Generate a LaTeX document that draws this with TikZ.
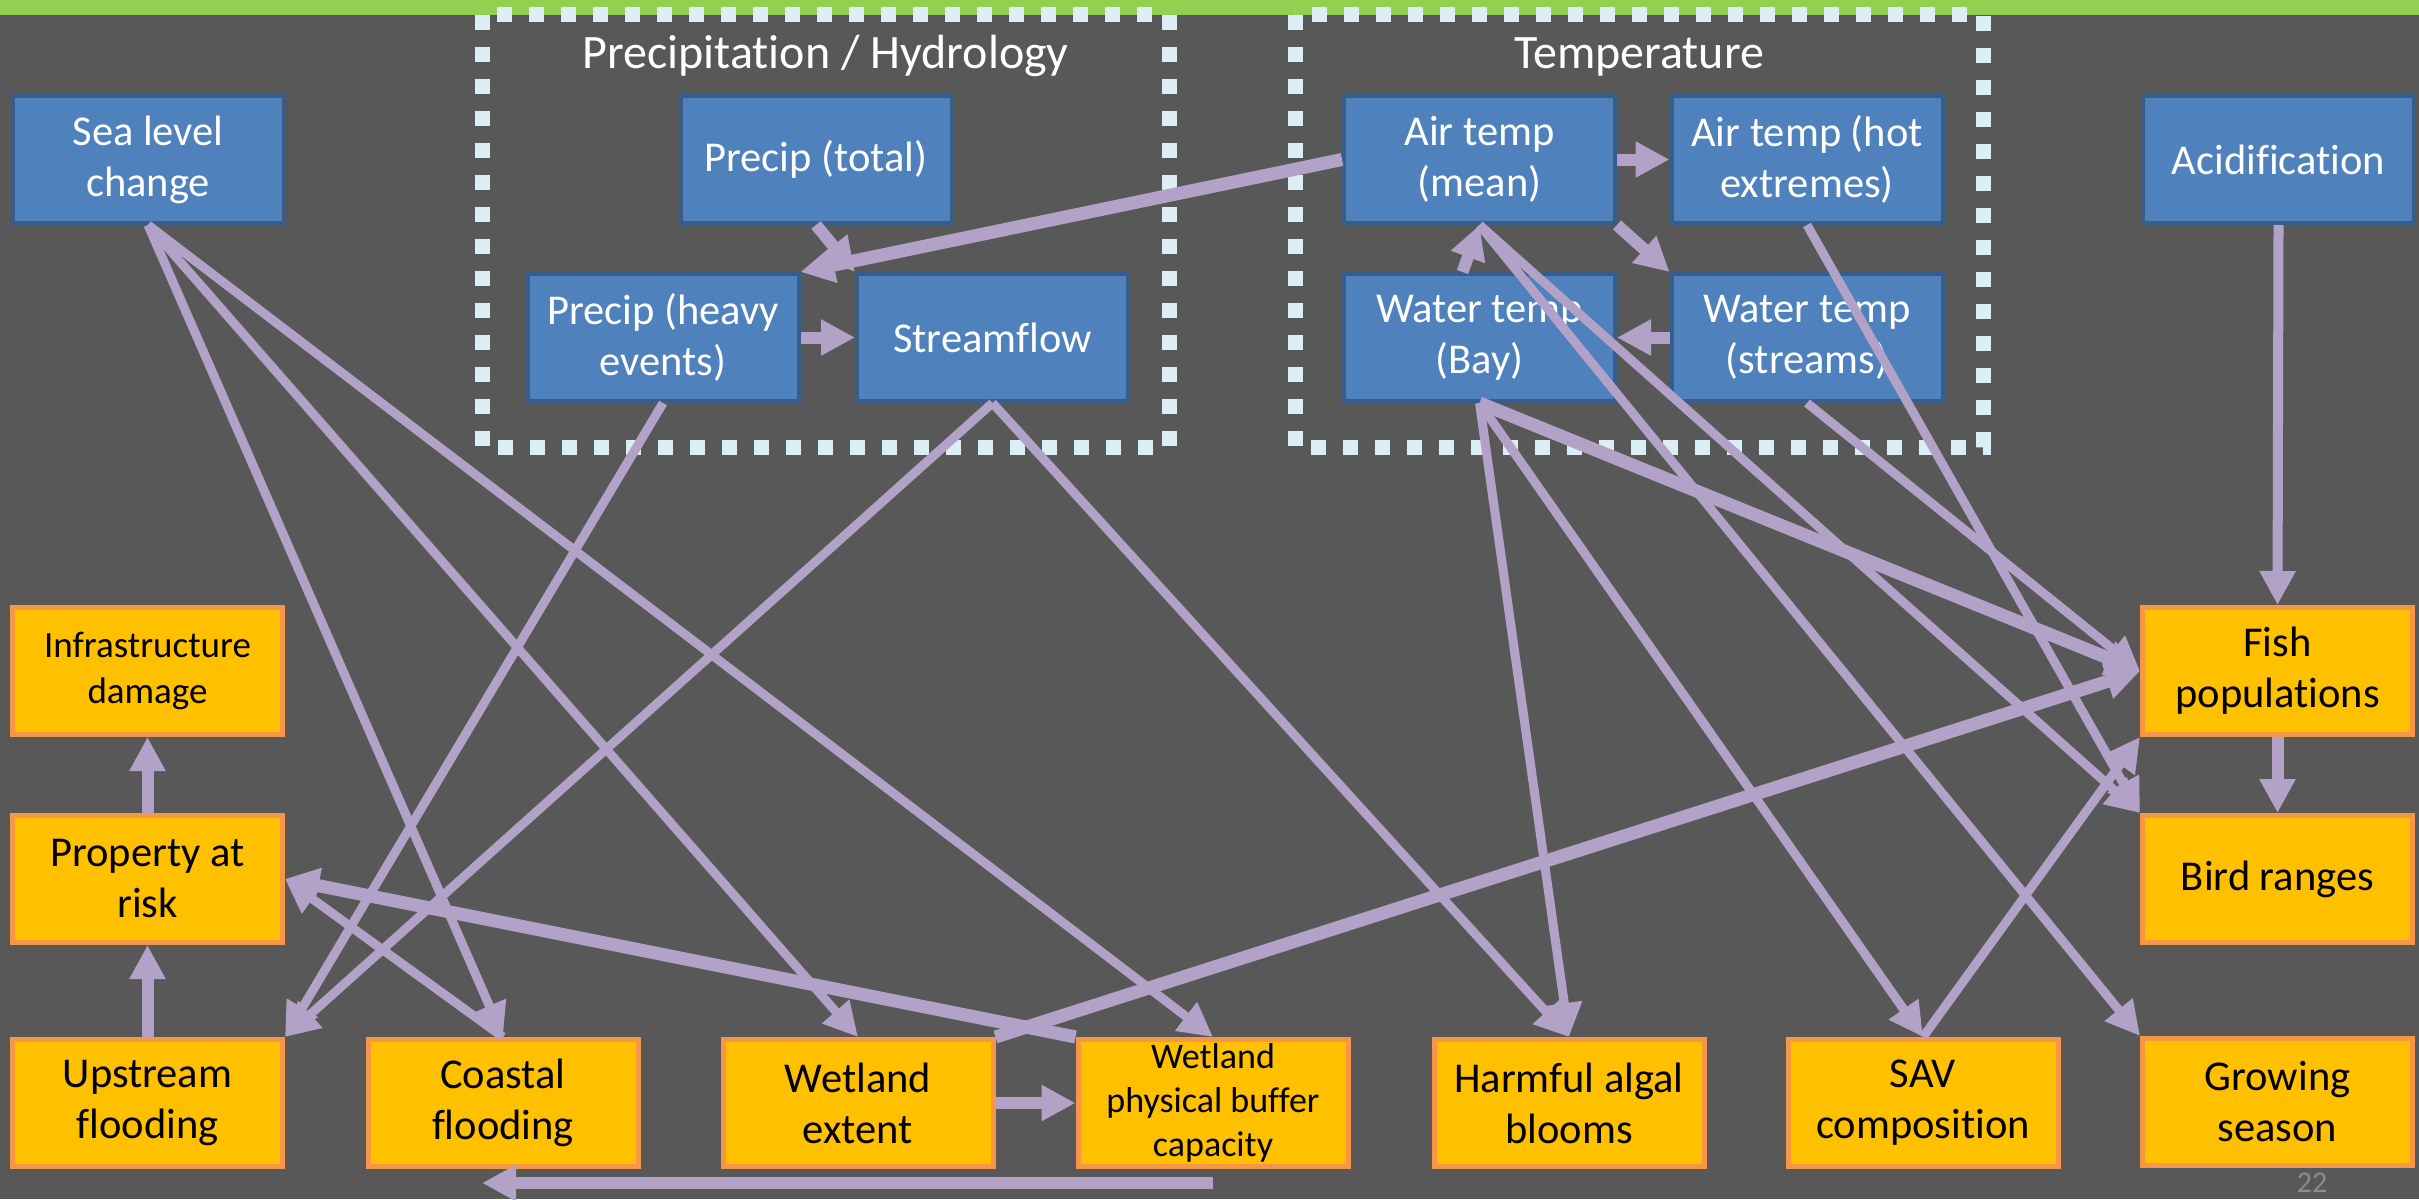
\documentclass[tikz,border=0pt]{standalone}
\usepackage{fontspec}
\setmainfont{Carlito}[Ligatures=NoCommon]
\usetikzlibrary{arrows.meta}

\definecolor{slidebg}{HTML}{585858}
\definecolor{topbar}{HTML}{92D050}
\definecolor{linkpurple}{HTML}{B3A2C7}
\definecolor{groupline}{HTML}{DAEEF3}
\definecolor{driverfill}{HTML}{4F81BD}
\definecolor{driverdraw}{HTML}{385D8A}
\definecolor{impactfill}{HTML}{FFC000}
\definecolor{impactdraw}{HTML}{F79646}
\definecolor{pagegray}{HTML}{8C8C8C}

\begin{document}
\begin{tikzpicture}[x=1pt,y=-1pt]
	\tikzstyle{driver}=[draw=driverdraw,fill=driverfill,line width=4pt,minimum width=271pt,minimum height=127pt,inner sep=0pt,align=center,text=white,font=\fontsize{42.5}{51}\selectfont];
	\tikzstyle{impact}=[draw=impactdraw,fill=impactfill,line width=5pt,minimum width=270pt,minimum height=127pt,inner sep=0pt,align=center,text=black,font=\fontsize{42.5}{51}\selectfont];
	\tikzstyle{groupbox}=[draw=groupline,line width=15pt,dash pattern=on 15pt off 17pt];
	\tikzstyle{grouptitle}=[text=white,font=\fontsize{48}{56}\selectfont,anchor=base];
	\tikzstyle{link}=[draw=linkpurple,line width=9pt,-{Triangle[length=34pt,width=34pt]}];
	\tikzstyle{thicklink}=[link,line width=13pt];
	\tikzstyle{shortlink}=[link,line width=12pt];

	\useasboundingbox (0,0) rectangle (2419,1199);
	\fill[slidebg] (0,0) rectangle (2419,1199);
	\fill[topbar] (0,0) rectangle (2419,15);

	% groups
	\draw[groupbox] (482,15) rectangle (1169,447);
	\draw[groupbox] (1295,15) rectangle (1983,447);
	\node[grouptitle] (precipttl) at (825.5,68) {Precipitation / Hydrology};
	\node[grouptitle] (tempttl) at (1639,68) {Temperature};

	% drivers
	\node[driver] (sea) at (148,159.5) {Sea level\\change};
	\node[driver] (total) at (816,159.5) {Precip (total)};
	\node[driver] (heavy) at (663,337.5) {Precip (heavy\\events)};
	\node[driver] (stream) at (992.5,337.5) {Streamflow};
	\node[driver] (mean) at (1479.5,159.5) {Air temp\\(mean)};
	\node[driver] (hot) at (1807,159.5) {Air temp (hot\\extremes)};
	\node[driver] (bay) at (1479.5,337.5) {Water temp\\(Bay)};
	\node[driver] (streams) at (1807,337.5) {Water temp\\(streams)};
	\node[driver] (acid) at (2278.5,159.5) {Acidification};

	% impacts
	\node[impact,font=\fontsize{37}{46}\selectfont] (infra) at (147.5,671) {Infrastructure\\damage};
	\node[impact] (property) at (147.5,879) {Property at\\risk};
	\node[impact] (upstream) at (147.5,1103) {Upstream\\flooding};
	\node[impact] (coastal) at (503,1103) {Coastal\\flooding};
	\node[impact] (wext) at (858,1103) {Wetland\\extent};
	\node[impact,font=\fontsize{36}{44}\selectfont] (wpb) at (1213,1103) {Wetland\\physical buffer\\capacity};
	\node[impact] (hab) at (1569,1103) {Harmful algal\\blooms};
	\node[impact] (sav) at (1923,1103) {SAV\\composition};
	\node[impact] (grow) at (2277.5,1102) {Growing\\season};
	\node[impact] (fish) at (2277.5,671) {Fish\\populations};
	\node[impact] (bird) at (2277.5,879) {Bird ranges};

	\node[text=pagegray,font=\fontsize{30}{36}\selectfont,anchor=base] (slideno) at (2312,1192) {22};

	\coordinate (wpbfoot) at (1213,1183);
	\coordinate (coastfoot) at (482,1183);

	% short links inside the groups
	\draw[shortlink] (total.south) -- (stream.north west);
	\draw[shortlink] (heavy.east) -- (stream.west);
	\draw[shortlink] (mean.east) -- (hot.west);
	\draw[shortlink] (mean.south east) -- (streams.north west);
	\draw[shortlink] (streams.west) -- (bay.east);
	\draw[shortlink] ([xshift=-17pt]bay.north) -- (mean.south);
	\draw[thicklink] (mean.west) -- (heavy.north east);

	% drivers to impacts
	\draw[link] (sea.south) -- (coastal.north);
	\draw[link] (sea.south) -- (wext.north);
	\draw[link] (sea.south) -- (wpb.north);
	\draw[link] (heavy.south) -- (upstream.north east);
	\draw[link] (stream.south) -- (upstream.north east);
	\draw[link] (stream.south) -- (hab.north);
	\draw[link] (mean.south) -- (grow.north west);
	\draw[link] (mean.south) -- (bird.north west);
	\draw[link] (hot.south) -- (bird.north west);
	\draw[thicklink] (bay.south) -- (fish.west);
	\draw[link] (bay.south) -- (hab.north);
	\draw[link] (bay.south) -- (sav.north);
	\draw[link] (streams.south) -- (fish.west);
	\draw[link,line width=10pt] (acid.south) -- (fish.north);

	% among impacts
	\draw[shortlink] (fish.south) -- (bird.north);
	\draw[link] (sav.north) -- (fish.south west);
	\draw[thicklink] (wext.north east) -- (fish.west);
	\draw[shortlink] (wext.east) -- (wpb.west);
	\draw[thicklink] (wpb.north west) -- (property.east);
	\draw[link] (coastal.north) -- (property.east);
	\draw[shortlink] (upstream.north) -- (property.south);
	\draw[shortlink] (property.north) -- (infra.south);
	\draw[shortlink] (wpbfoot) -- (coastfoot);
\end{tikzpicture}
\end{document}
